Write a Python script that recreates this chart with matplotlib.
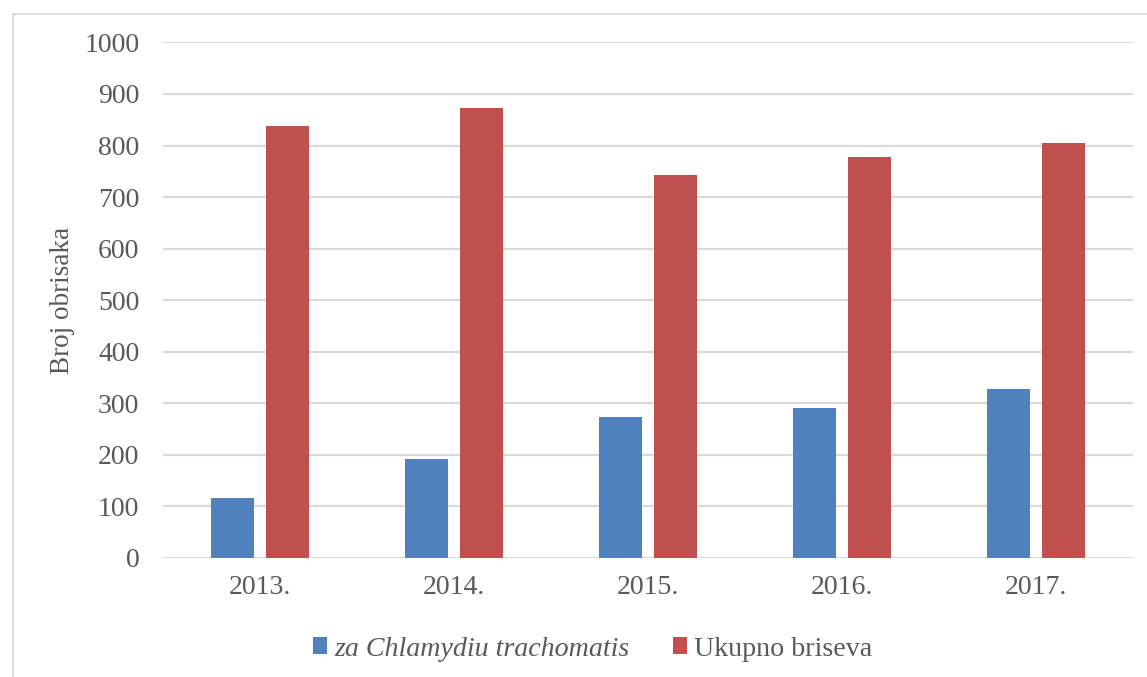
import matplotlib.pyplot as plt
import matplotlib.patches as mpatches
import numpy as np

# Data
years = ['2013.', '2014.', '2015.', '2016.', '2017.']
chlamydia = [117, 192, 273, 290, 328]
ukupno = [837, 873, 743, 777, 804]

blue = '#4f81bd'
red = '#c0504d'
text_col = '#595959'
grid_col = '#d9d9d9'

plt.rcParams['font.family'] = ['Liberation Serif', 'DejaVu Serif']

fig = plt.figure(figsize=(11.47, 6.77), dpi=100)
ax = fig.add_axes([0.1421, 0.1758, 0.8457, 0.7616])

# light border around the chart area
fig.patches.append(mpatches.Rectangle((13 / 1147, -0.5), 2, 0.5 + 1 - 14 / 677,
                                      transform=fig.transFigure, fill=False,
                                      edgecolor=grid_col, linewidth=1.2))

x = np.arange(len(years))
w = 0.222
off = 0.142
ax.bar(x - off, chlamydia, width=w, color=blue, zorder=3, label='za Chlamydiu trachomatis')
ax.bar(x + off, ukupno, width=w, color=red, zorder=3, label='Ukupno briseva')

ax.set_xlim(-0.5, len(years) - 0.5)
ax.set_ylim(0, 1000)
ax.set_yticks(range(0, 1001, 100))
ax.set_xticks(x)
ax.set_xticklabels(years)

ax.grid(axis='y', color=grid_col, linewidth=1.5, zorder=0)
for s in ax.spines.values():
    s.set_visible(False)
ax.tick_params(axis='both', length=0, labelsize=20, labelcolor=text_col)
ax.tick_params(axis='y', pad=17)
ax.tick_params(axis='x', pad=12)

ax.set_ylabel('Broj obrisaka', fontsize=19.5, color=text_col)
ax.yaxis.set_label_coords(-0.091, 0.5)

leg = fig.legend(loc='center', bbox_to_anchor=(0.5166, 0.041), ncol=2, frameon=False,
                 fontsize=20.2, handlelength=0.5, handleheight=0.55, handletextpad=0.25,
                 columnspacing=1.55, labelcolor=text_col)
leg.get_texts()[0].set_fontstyle('italic')

fig.savefig('out.png', dpi=100)
